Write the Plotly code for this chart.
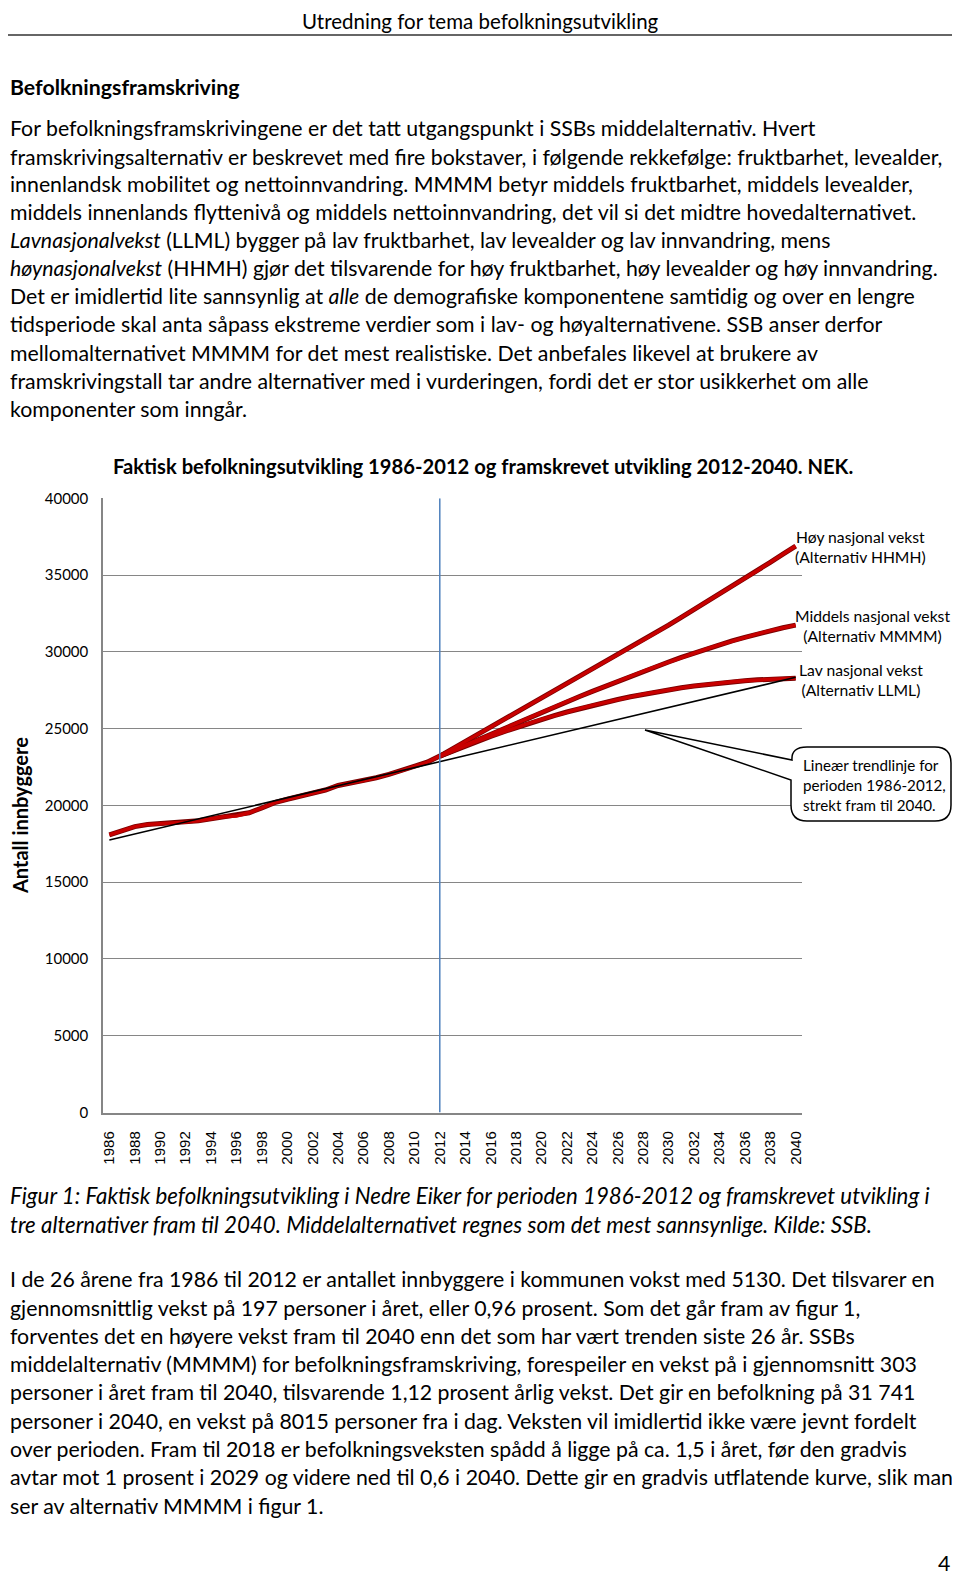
import plotly.graph_objects as go

# ---------------- data ----------------
years_actual = list(range(1986, 2013))
pop_actual = [18080, 18360, 18620, 18760, 18800, 18860, 18910, 19000, 19130, 19260,
              19310, 19520, 19830, 20180, 20400, 20600, 20780, 21000, 21300, 21440,
              21610, 21800, 22020, 22260, 22540, 22810, 23210]

years_proj = list(range(2012, 2041))
pop_hhmh = [23210, 23680, 24150, 24620, 25090, 25560, 26030, 26500, 26970, 27440,
            27910, 28380, 28850, 29320, 29790, 30270, 30760, 31250, 31740, 32240,
            32740, 33240, 33750, 34260, 34780, 35300, 35830, 36360, 36890]
pop_mmmm = [23210, 23570, 23930, 24290, 24650, 25010, 25370, 25720, 26068, 26413,
            26755, 27094, 27429, 27760, 28087, 28409, 28726, 29037, 29341, 29637,
            29925, 30200, 30462, 30711, 30947, 31170, 31380, 31570, 31741]
pop_llml = [23210, 23550, 23878, 24195, 24499, 24792, 25073, 25343, 25600, 25846,
            26080, 26302, 26513, 26711, 26898, 27073, 27237, 27388, 27528, 27656,
            27772, 27877, 27969, 28050, 28119, 28177, 28222, 28256, 28278]

trend_years = [1986, 2040]
trend_values = [17750, 28340]

marker_year = 2012
x_tick_years = list(range(1986, 2041, 2))
x_tick_labels = [str(y) for y in x_tick_years]

chart_title = "Faktisk befolkningsutvikling 1986-2012 og framskrevet utvikling 2012-2040. NEK."
y_title = "Antall innbyggere"

header = "Utredning for tema befolkningsutvikling"
heading = "Befolkningsframskriving"
para1 = [
    "For befolkningsframskrivingene er det tatt utgangspunkt i SSBs middelalternativ. Hvert",
    "framskrivingsalternativ er beskrevet med fire bokstaver, i følgende rekkefølge: fruktbarhet, levealder,",
    "innenlandsk mobilitet og nettoinnvandring. MMMM betyr middels fruktbarhet, middels levealder,",
    "middels innenlands flyttenivå og middels nettoinnvandring, det vil si det midtre hovedalternativet.",
    "<i>Lavnasjonalvekst</i> (LLML) bygger på lav fruktbarhet, lav levealder og lav innvandring, mens",
    "<i>høynasjonalvekst</i> (HHMH) gjør det tilsvarende for høy fruktbarhet, høy levealder og høy innvandring.",
    "Det er imidlertid lite sannsynlig at <i>alle</i> de demografiske komponentene samtidig og over en lengre",
    "tidsperiode skal anta såpass ekstreme verdier som i lav- og høyalternativene. SSB anser derfor",
    "mellomalternativet MMMM for det mest realistiske. Det anbefales likevel at brukere av",
    "framskrivingstall tar andre alternativer med i vurderingen, fordi det er stor usikkerhet om alle",
    "komponenter som inngår.",
]
para1_y = [128, 157, 184, 212, 240, 268, 296, 324, 353, 381, 409]

caption = [
    "Figur 1: Faktisk befolkningsutvikling i Nedre Eiker for perioden 1986-2012 og framskrevet utvikling i",
    "tre alternativer fram til 2040. Middelalternativet regnes som det mest sannsynlige. Kilde: SSB.",
]
caption_y = [1195, 1224]

para2 = [
    "I de 26 årene fra 1986 til 2012 er antallet innbyggere i kommunen vokst med 5130. Det tilsvarer en",
    "gjennomsnittlig vekst på 197 personer i året, eller 0,96 prosent. Som det går fram av figur 1,",
    "forventes det en høyere vekst fram til 2040 enn det som har vært trenden siste 26 år. SSBs",
    "middelalternativ (MMMM) for befolkningsframskriving, forespeiler en vekst på i gjennomsnitt 303",
    "personer i året fram til 2040, tilsvarende 1,12 prosent årlig vekst. Det gir en befolkning på 31 741",
    "personer i 2040, en vekst på 8015 personer fra i dag. Veksten vil imidlertid ikke være jevnt fordelt",
    "over perioden. Fram til 2018 er befolkningsveksten spådd å ligge på ca. 1,5 i året, før den gradvis",
    "avtar mot 1 prosent i 2029 og videre ned til 0,6 i 2040. Dette gir en gradvis utflatende kurve, slik man",
    "ser av alternativ MMMM i figur 1.",
]
para2_y = [1279, 1308, 1336, 1364, 1392, 1421, 1449, 1477, 1506]

# ---------------- layout helpers ----------------
# the page body keeps an 8px margin, so the figure is 16px smaller than the window
PAGE_W, PAGE_H, OFF = 960, 1585, 8
W, H = PAGE_W - 2 * OFF, PAGE_H - 2 * OFF
def px(x):
    return (x - OFF) / W
def py(y):
    return 1 - (y - OFF) / H

BODY = "Lato, Carlito, Calibri, sans-serif"
RED = "#C80000"
RED_EDGE = "#7A0000"
GRID = "#868686"
TXT = 21.3

fig = go.Figure()
red_series = [(years_actual, pop_actual), (years_proj, pop_hhmh),
              (years_proj, pop_mmmm), (years_proj, pop_llml)]
for xs, ys in red_series:
    fig.add_trace(go.Scatter(x=xs, y=ys, mode="lines",
                             line=dict(color=RED_EDGE, width=5), hoverinfo="skip"))
for xs, ys in red_series:
    fig.add_trace(go.Scatter(x=xs, y=ys, mode="lines",
                             line=dict(color=RED, width=3.4), hoverinfo="skip"))
fig.add_trace(go.Scatter(x=trend_years, y=trend_values, mode="lines",
                         line=dict(color="black", width=1.6), hoverinfo="skip"))
fig.add_trace(go.Scatter(x=[marker_year, marker_year], y=[0, 40000], mode="lines",
                         line=dict(color="#4F81BD", width=1.5), hoverinfo="skip"))

fig.update_layout(
    width=W, height=H,
    margin=dict(l=0, r=0, t=0, b=0, autoexpand=False),
    paper_bgcolor="white", plot_bgcolor="white",
    showlegend=False,
    xaxis=dict(domain=[px(103), px(802)], range=[1985.5, 2040.5], automargin=False,
               tickmode="array", tickvals=x_tick_years, ticktext=x_tick_labels,
               tickangle=-90, tickfont=dict(family="Liberation Sans, Arial", size=15, color="black"),
               showgrid=False, zeroline=False, showline=True, linecolor=GRID, linewidth=1.5,
               ticks="outside", ticklen=11, tickcolor="rgba(0,0,0,0)"),
    yaxis=dict(domain=[py(1112.5), py(498.3)], range=[0, 40000], dtick=5000, tick0=0,
               automargin=False,
               tickformat="d", tickfont=dict(family=BODY, size=15, color="black"),
               showgrid=True, gridcolor=GRID, gridwidth=1.3, zeroline=False,
               showline=True, linecolor=GRID, linewidth=1.5,
               ticks="outside", ticklen=10, tickcolor="rgba(0,0,0,0)"),
)

ann = []
def text(x, y, s, size=TXT, anchor="left", bold=False, family=BODY, angle=0, align="left",
         color="black", yanchor="middle", pad=1):
    if bold:
        s = "<b>" + s + "</b>"
    ann.append(dict(x=px(x), y=py(y), xref="paper", yref="paper", text=s, showarrow=False,
                    xanchor=anchor, yanchor=yanchor, align=align, textangle=angle, borderpad=pad,
                    font=dict(family=family, size=size, color=color)))

# page text
text(480, OFF, header, size=20.5, anchor="center", yanchor="top", pad=0)
text(8, 87, heading, size=21.3, bold=True)
for s, y in zip(para1, para1_y):
    text(8, y, s)
for s, y in zip(caption, caption_y):
    text(8, y, "<i>" + s + "</i>", size=22.3)
for s, y in zip(para2, para2_y):
    text(8, y, s)
text(951, PAGE_H - OFF, "4", size=TXT, anchor="right", yanchor="bottom", pad=0)

# chart texts
text(111, 466, chart_title, size=20.2, bold=True)
text(20, 816, y_title, size=20, bold=True, anchor="center", angle=-90)
text(860, 547, "Høy nasjonal vekst<br>(Alternativ HHMH)", size=15.7, anchor="center", align="center")
text(872, 626, "Middels nasjonal vekst<br>(Alternativ MMMM)", size=15.7, anchor="center", align="center")
text(861, 680, "Lav nasjonal vekst<br>(Alternativ LLML)", size=15.7, anchor="center", align="center")
text(801, 785, "Lineær trendlinje for<br>perioden 1986-2012,<br>strekt fram til 2040.", size=15.2)

# header rule (kept just below the header's descenders)
shapes = [dict(type="line", xref="paper", yref="paper", x0=px(OFF), x1=px(952), y0=py(35), y1=py(35),
               line=dict(color="#333333", width=1.5))]

# callout box with wedge (drawn above the gridlines)
L, T, R, B, r = 791, 747, 951, 821, 16
tip = (645, 730)
def P(x, y):
    return f"{px(x):.5f},{py(y):.5f}"
path = (f"M {P(L + r, T)} L {P(R - r, T)} Q {P(R, T)} {P(R, T + r)} "
        f"L {P(R, B - r)} Q {P(R, B)} {P(R - r, B)} L {P(L + r, B)} Q {P(L, B)} {P(L, B - r)} "
        f"L {P(L, 780)} L {P(*tip)} L {P(L + 1, 760)} Q {P(L, T)} {P(L + r, T)} Z")
shapes.append(dict(type="path", xref="paper", yref="paper", path=path,
                   line=dict(color="black", width=1.5), fillcolor="white", layer="above"))
fig.update_layout(shapes=shapes, annotations=ann)

fig.write_html("out.html")
